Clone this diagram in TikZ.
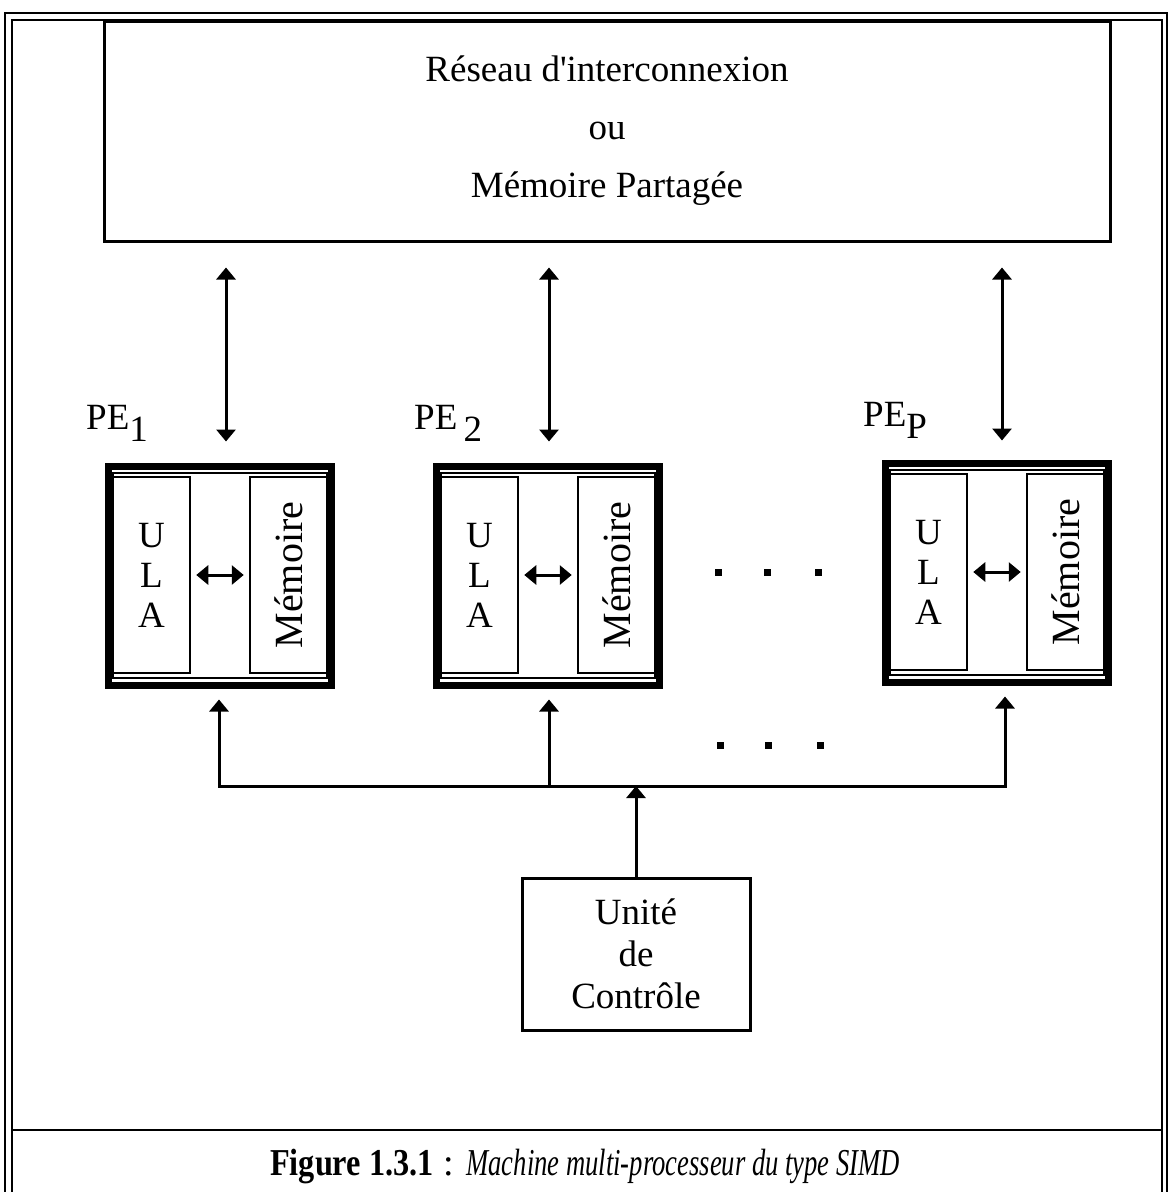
\documentclass[tikz,border=0pt]{standalone}
\usepackage{fontspec}
\setmainfont{Liberation Serif}
\newfontfamily\plainserif{Liberation Serif}
\usepackage{graphicx}
\usetikzlibrary{arrows.meta}
\tikzset{
    frameline/.style={line width=2.5pt},
    bigbox/.style={draw, line width=3pt, inner sep=0pt, align=center},
    pebox/.style={draw, line width=7pt, inner sep=0pt, minimum width=223pt, minimum height=219pt},
    peinner/.style={draw, line width=2pt, inner sep=0pt, minimum width=214pt, minimum height=205pt},
    ulabox/.style={draw, line width=2.5pt, inner sep=0pt, minimum width=77pt, minimum height=196pt,
        align=center, font=\fontsize{37}{40}\selectfont},
    membox/.style={ulabox, font=\fontsize{40}{40}\selectfont},
    pelabel/.style={anchor=base west, inner sep=0pt, font=\fontsize{37}{40}\selectfont},
    dblarrow/.style={{Triangle[width=19pt,length=12pt]}-{Triangle[width=19pt,length=12pt]}, line width=3pt},
    uparrow/.style={-{Triangle[width=19pt,length=12pt]}, line width=3pt}}

\begin{document}
\begin{tikzpicture}[x=1pt, y=-1pt]
    \useasboundingbox (0,0) rectangle (1171,1192);

    % cadre double
    \draw[frameline] (5,1192) -- (5,13) -- (1167,13) -- (1167,1192);
    \draw[frameline] (12,1192) -- (12,20) -- (1162,20) -- (1162,1192);
    \draw[frameline] (12,1130) -- (1162,1130);

    \node[bigbox, minimum width=1006pt, minimum height=220pt, font=\fontsize{37}{58}\selectfont] (net) at (607,131)
        {Réseau d{\plainserif '}interconnexion\\ou\\Mémoire Partagée};

    \node[pelabel] (lab1) at (86,429) {PE\raisebox{-12pt}{1}};
    \node[pelabel] (lab2) at (414,429) {PE\,\raisebox{-12pt}{2}};
    \node[pelabel] (labp) at (863,426) {PE\raisebox{-12pt}{P}};

    \node[pebox] (pe1) at (219.5,575.5) {};
    \node[peinner] (pe1in) at (220,575.5) {};
    \node[ulabox] (ula1) at (151.5,575) {U\\L\\A};
    \node[membox] (mem1) at (288.5,575) {\rotatebox{90}{Mémoire}};

    \node[pebox] (pe2) at (547.5,575.5) {};
    \node[peinner] (pe2in) at (548,575.5) {};
    \node[ulabox] (ula2) at (479.5,575) {U\\L\\A};
    \node[membox] (mem2) at (616.5,575) {\rotatebox{90}{Mémoire}};

    \node[pebox] (pep) at (996.5,572.5) {};
    \node[peinner] (pepin) at (997,572.5) {};
    \node[ulabox] (ulap) at (928.5,572) {U\\L\\A};
    \node[membox] (memp) at (1065.5,572) {\rotatebox{90}{Mémoire}};

    \node[bigbox, minimum width=228pt, minimum height=152pt, font=\fontsize{37}{42}\selectfont] (ctrl) at (636,954)
        {Unité\\de\\Contrôle};

    \draw[dblarrow, shorten <=5pt, shorten >=5pt] (ula1) -- (mem1);
    \draw[dblarrow, shorten <=5pt, shorten >=5pt] (ula2) -- (mem2);
    \draw[dblarrow, shorten <=5pt, shorten >=5pt] (ulap) -- (memp);

    % liaisons avec le reseau
    \coordinate (a1) at (226,0);
    \coordinate (a2) at (549,0);
    \coordinate (ap) at (1002,0);
    \draw[dblarrow, shorten <=25pt, shorten >=21pt] (net.south -| a1) -- (pe1.north -| a1);
    \draw[dblarrow, shorten <=25pt, shorten >=21pt] (net.south -| a2) -- (pe2.north -| a2);
    \draw[dblarrow, shorten <=25pt, shorten >=19pt] (net.south -| ap) -- (pep.north -| ap);

    % bus de controle
    \coordinate (bus1) at (219,786);
    \coordinate (bus2) at (549,786);
    \coordinate (busp) at (1005,786);
    \draw[dblarrow, shorten <=11pt, shorten >=11pt] (pe1.south -| bus1) -- (bus1) -- (busp) -- (pep.south -| busp);
    \draw[uparrow, shorten >=11pt] (bus2) -- (pe2.south -| bus2);
    \draw[uparrow] (ctrl.north) -- (ctrl.north |- bus1);

    \foreach \x in {718,767,818} \fill (\x-3.5,568.5) rectangle ++(7,7);
    \foreach \x in {720,768,820} \fill (\x-3.5,741.5) rectangle ++(7,7);

    \node[anchor=base, inner sep=0pt, font=\fontsize{38}{40}\selectfont] (cap) at (585,1175)
        {\scalebox{0.85}[1]{\textbf{Figure 1.3.1}} : \scalebox{0.7}[1]{\textit{Machine multi-processeur du type SIMD}}};
\end{tikzpicture}
\end{document}
